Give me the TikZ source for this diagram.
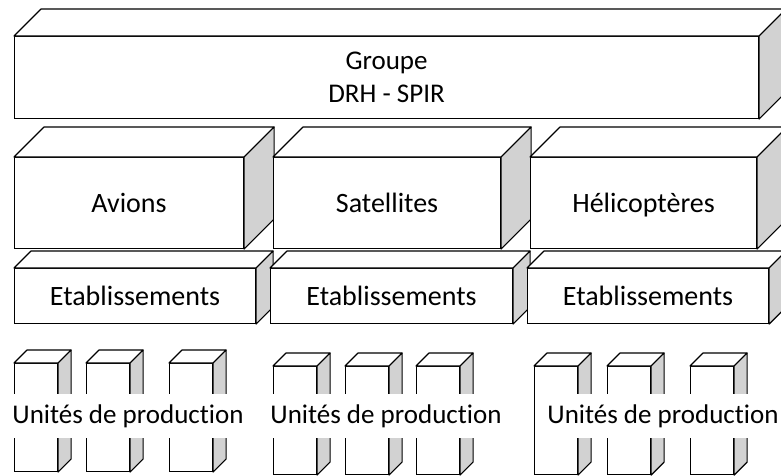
\documentclass[tikz,border=0pt]{standalone}
\usepackage{fontspec}
\setmainfont{Carlito}[Ligatures=NoCommon]
\usetikzlibrary{positioning}
\definecolor{sidegray}{RGB}{210,210,210}

\tikzset{
  face/.style={draw, fill=white, line width=1.1pt, inner sep=0pt, align=center, anchor=north west},
  titre/.style={font=\fontsize{28}{30}\selectfont, text height=24pt, text depth=5pt},
  dessus/.style={draw, fill=white, line width=1.1pt, line join=round},
  cote/.style={draw, fill=sidegray, line width=1.1pt, line join=round},
  legende/.style={fill=white, inner xsep=0pt, minimum height=44pt, font=\fontsize{27}{30}\selectfont},
}

% top and side faces of a box, #1 = front node, #2 = depth in pt
\newcommand{\relief}[2]{%
  \draw[dessus] (#1.north west) -- ++(#2pt,#2pt) -- ([xshift=#2pt,yshift=#2pt]#1.north east) -- (#1.north east) -- cycle;
  \draw[cote] (#1.north east) -- ++(#2pt,#2pt) -- ([xshift=#2pt,yshift=#2pt]#1.south east) -- (#1.south east) -- cycle;
}

\begin{document}
\begin{tikzpicture}[x=1pt, y=-1pt]
  \useasboundingbox (0,0) rectangle (781,475);
  \clip (0,0) rectangle (781,475);

  % Groupe
  \node[face, minimum width=744pt, minimum height=82pt, font=\fontsize{27}{33}\selectfont] (grp) at (14,36) {Groupe\\DRH - SPIR};
  \relief{grp}{27}

  % Etablissements
  \node[face, titre, minimum width=241pt, minimum height=55pt] (etab1) at (14,268) {Etablissements};
  \relief{etab1}{17}
  \node[face, titre, minimum width=242pt, minimum height=55pt] (etab2) at (270,268) {Etablissements};
  \relief{etab2}{17}
  \node[face, titre, minimum width=241pt, minimum height=55pt] (etab3) at (527,268) {Etablissements};
  \relief{etab3}{17}

  % Divisions
  \node[face, titre, minimum width=229pt, minimum height=91pt] (avions) at (14,157) {Avions};
  \relief{avions}{30}
  \node[face, titre, minimum width=227pt, minimum height=91pt] (satel) at (273,157) {Satellites};
  \relief{satel}{30}
  \node[face, titre, minimum width=226pt, minimum height=91pt] (helico) at (530,157) {Hélicoptères};
  \relief{helico}{30}

  % Unites de production
  \foreach \x/\y/\n in {14/363/a1, 86/363/a2, 169/363/a3,
                        273/366/b1, 345/366/b2, 416/366/b3,
                        534/366/c1, 607/366/c2, 690/366/c3} {
    \node[face, minimum width=43pt, minimum height=108pt] (\n) at (\x,\y) {};
    \relief{\n}{13}
  }
  \node[legende] (up1) at (128,416) {Unités de production};
  \node[legende] (up2) at (386,416) {Unités de production};
  \node[legende] (up3) at (663,416) {Unités de production};
\end{tikzpicture}
\end{document}
